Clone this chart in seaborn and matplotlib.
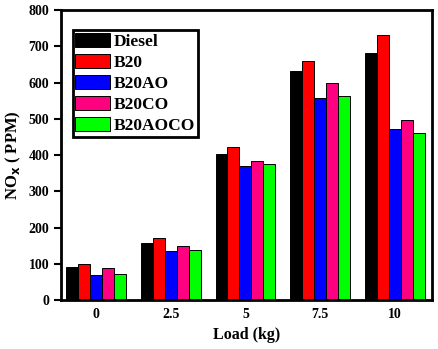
import pandas as pd
import matplotlib
matplotlib.use("Agg")
import matplotlib.pyplot as plt
import seaborn as sns

# data
loads = ["0", "2.5", "5", "7.5", "10"]
fuels = ["Diesel", "B20", "B20AO", "B20CO", "B20AOCO"]
diesel = [92, 157, 403, 632, 682]
b20 = [99, 171, 422, 661, 731]
b20ao = [69, 135, 370, 558, 472]
b20co = [88, 148, 385, 598, 496]
b20aoco = [72, 138, 375, 564, 460]
colors = ["#000000", "#ff0000", "#0000ff", "#ff0080", "#00ff00"]

rows = []
for fuel, vals in zip(fuels, [diesel, b20, b20ao, b20co, b20aoco]):
    for load, v in zip(loads, vals):
        rows.append({"Load": load, "Fuel": fuel, "NOx": v})
df = pd.DataFrame(rows)

sns.set_style("ticks")
plt.rcParams["font.family"] = ["Liberation Serif", "DejaVu Serif"]
plt.rcParams["font.weight"] = "bold"
plt.rcParams["text.color"] = "black"
plt.rcParams["axes.labelcolor"] = "black"
plt.rcParams["xtick.color"] = "black"
plt.rcParams["ytick.color"] = "black"

fig = plt.figure(figsize=(4.39, 3.49), dpi=100)
ax = fig.add_axes([0.139, 0.140, 0.845, 0.831])

sns.barplot(data=df, x="Load", y="NOx", hue="Fuel", order=loads,
            hue_order=fuels, palette=colors, width=0.8, saturation=1,
            edgecolor="black", linewidth=0.7, ax=ax)

ax.set_ylim(0, 800)
ax.set_xlim(-0.47, 4.5)
ax.set_yticks(range(0, 801, 100))
ax.set_xlabel("Load (kg)", fontsize=11.5, fontweight="bold")
ax.set_ylabel("NO$_\\mathbf{x}$ ( PPM)", fontsize=12, fontweight="bold")
ax.tick_params(axis="y", direction="out", length=5, width=1.5, labelsize=10)
ax.tick_params(axis="x", length=0, labelsize=10, pad=6)
for lab in ax.get_xticklabels() + ax.get_yticklabels():
    lab.set_fontweight("bold")
for sp in ax.spines.values():
    sp.set_linewidth(2)
    sp.set_color("black")
    sp.set_visible(True)

leg = ax.legend(loc="upper left", bbox_to_anchor=(0.032, 0.93),
                prop={"size": 12.5, "weight": "bold"}, frameon=True,
                fancybox=False, handlelength=2.0, handleheight=0.9,
                labelspacing=0.22, borderpad=0.15, handletextpad=0.2,
                borderaxespad=0)
leg.get_frame().set_edgecolor("black")
leg.get_frame().set_linewidth(2)
leg.get_frame().set_alpha(1)

fig.savefig("out.png", dpi=100)
